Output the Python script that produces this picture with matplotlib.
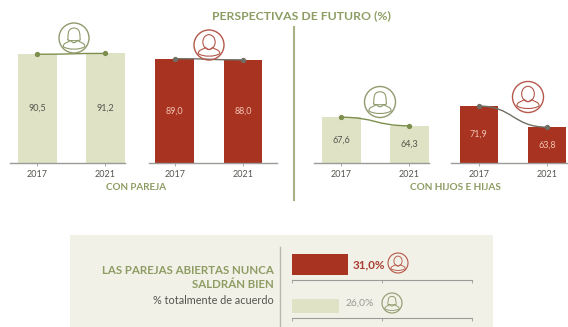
import matplotlib
matplotlib.use('Agg')
import matplotlib.pyplot as plt
from matplotlib.patches import Circle, Ellipse, PathPatch, Rectangle
from matplotlib.path import Path

plt.rcParams['font.family'] = ['Lato', 'DejaVu Sans']

W, H = 568, 327

years = ['2017', '2021']
pareja_mujer = [90.5, 91.2]
pareja_hombre = [89.0, 88.0]
hijos_mujer = [67.6, 64.3]
hijos_hombre = [71.9, 63.8]
abiertas = [31.0, 26.0]

GREEN = '#8d9c62'
LIGHT = '#dfe2c5'
RED = '#a83320'
ICON_RED = '#b5574a'
ICON_GREEN = '#8f9a6c'
GREY = '#9b9b98'
TEXT = '#55554e'

fig = plt.figure(figsize=(W / 100, H / 100), dpi=100, facecolor='white')


def box(x0, x1, ytop, ybot):
    # pixel box (from top left) to figure fractions
    return [x0 / W, 1 - ybot / H, (x1 - x0) / W, (ybot - ytop) / H]


def clean(ax):
    ax.patch.set_alpha(0)
    for s in ['top', 'right', 'left', 'bottom']:
        ax.spines[s].set_visible(False)


def panel(x0, x1, xlim, ylim, vals, color, label_color, line_color):
    ax = fig.add_axes(box(x0, x1, 20, 163))
    clean(ax)
    ax.spines['bottom'].set_visible(True)
    ax.spines['bottom'].set_color(GREY)
    ax.spines['bottom'].set_linewidth(1)
    bars = ax.bar([0, 1], vals, width=0.57, color=color)
    txt = [('%.1f' % v).replace('.', ',') for v in vals]
    ax.bar_label(bars, labels=txt, label_type='center', fontsize=6.5, color=label_color)
    # smooth link between the two bar tops
    path = Path([(0, vals[0]), (0.5, vals[0]), (0.5, vals[1]), (1, vals[1])],
                [Path.MOVETO, Path.CURVE4, Path.CURVE4, Path.CURVE4])
    ax.add_patch(PathPatch(path, fc='none', ec=line_color, lw=1, zorder=3))
    ax.plot([0, 1], vals, ls='none', marker='o', ms=2.8, color=line_color, zorder=4)
    ax.set_xlim(*xlim)
    ax.set_ylim(*ylim)
    ax.set_xticks([0, 1], years)
    ax.set_yticks([])
    ax.tick_params(axis='x', length=2, width=0.6, color=GREY, labelsize=6.5,
                   labelcolor=TEXT, pad=3)
    return ax


panel(10, 125, (-0.404, 1.287), (0, 119), pareja_mujer, LIGHT, TEXT, '#7d8f4e')
panel(149, 277, (-0.38, 1.5), (0, 122), pareja_hombre, RED, '#f0c4b4', '#6f6f66')
panel(314, 429, (-0.4, 1.29), (50, 105), hijos_mujer, LIGHT, TEXT, '#7d8f4e')
panel(451, 568, (-0.41, 1.31), (50, 105), hijos_hombre, RED, '#f0c4b4', '#6f6f66')

# overlay in pixel coordinates for the texts and icons
ov = fig.add_axes([0, 0, 1, 1], zorder=5)
ov.set_xlim(0, W)
ov.set_ylim(H, 0)
ov.axis('off')
ov.patch.set_alpha(0)


def person(cx, cy, r, color, female, lw=1.0):
    ov.add_patch(Circle((cx, cy), r, fc='none', ec=color, lw=lw))
    M, C = Path.MOVETO, Path.CURVE4
    if female:
        # hair arch
        hair = [(-0.42, 0.14), (-0.36, -0.1), (-0.5, -0.66), (0, -0.66),
                (0.5, -0.66), (0.36, -0.1), (0.42, 0.14), (0.15, 0.2), (-0.15, 0.2), (-0.42, 0.14)]
        xy = [(cx + a * r, cy + b * r) for a, b in hair]
        ov.add_patch(PathPatch(Path(xy, [M] + [C] * 9), fc='none', ec=color, lw=lw * 0.8))
    else:
        ov.add_patch(Ellipse((cx, cy - 0.2 * r), 0.82 * r, 0.98 * r, fc='none', ec=color, lw=lw * 0.8))
    body = [(-0.72, 0.58), (-0.72, 0.3), (-0.4, 0.3), (-0.22, 0.16),
            (-0.1, 0.36), (0.1, 0.36), (0.22, 0.16), (0.4, 0.3), (0.72, 0.3), (0.72, 0.58),
            (0.35, 0.8), (-0.35, 0.8), (-0.72, 0.58)]
    xy = [(cx + a * r, cy + b * r) for a, b in body]
    ov.add_patch(PathPatch(Path(xy, [M] + [C] * 12), fc='none', ec=color, lw=lw * 0.8))


person(74, 38, 15, ICON_GREEN, True)
person(209, 45, 15, ICON_RED, False)
person(380, 102, 15.5, ICON_GREEN, True)
person(528, 97, 15.5, ICON_RED, False)

ov.plot([293.5, 293.5], [27, 200], color='#a9b184', lw=1.5)
ov.text(301, 16, 'PERSPECTIVAS DE FUTURO (%)', ha='center', va='center',
        fontsize=8.8, fontweight='bold', color=GREEN)
ov.text(136, 187, 'CON PAREJA', ha='center', va='center', fontsize=7.1,
        fontweight='bold', color=GREEN)
ov.text(455, 187, 'CON HIJOS E HIJAS', ha='center', va='center', fontsize=7.2,
        fontweight='bold', color=GREEN)

# bottom block
fig.add_artist(Rectangle((70 / W, 0), 423 / W, 92 / H, transform=fig.transFigure,
                         fc='#f2f1e8', ec='none', zorder=-1))
ov.plot([280, 280], [247, 327], color='#b9b9ae', lw=1)
ov.text(274, 271, 'LAS PAREJAS ABIERTAS NUNCA', ha='right', va='center', fontsize=8.3,
        fontweight='bold', color=GREEN)
ov.text(274, 284, 'SALDRÁN BIEN', ha='right', va='center', fontsize=8.3,
        fontweight='bold', color=GREEN)
ov.text(274, 300, '% totalmente de acuerdo', ha='right', va='center', fontsize=7.8, color=TEXT)

for (top, bot, centre, thick, val, col, txtcol, weight, size, tx, ty) in [
        (251, 280, 0.526, 0.74, abiertas[0], RED, '#a83e30', 'bold', 8.4, 353, 265),
        (297, 318, 0.571, 0.667, abiertas[1], LIGHT, '#9a9a94', 'normal', 7.4, 346, 303)]:
    ax = fig.add_axes(box(292, 472, top, bot))
    clean(ax)
    ax.spines['bottom'].set_visible(True)
    ax.spines['bottom'].set_color(GREY)
    ax.barh([centre], [val], height=thick, color=col)
    ax.set_xlim(0, 100)
    ax.set_ylim(0, 1)
    ax.set_xticks([0, 50, 100], ['', '', ''])
    ax.set_yticks([])
    ax.tick_params(axis='x', length=2, width=0.6, color=GREY)
    lab = ('%.1f' % val).replace('.', ',') + '%'
    ov.text(tx, ty, lab, va='center', fontsize=size, fontweight=weight, color=txtcol)

person(398, 263, 10, ICON_RED, False, lw=0.8)
person(392, 303, 10, ICON_GREEN, True, lw=0.8)

fig.savefig('out.png', dpi=100)
